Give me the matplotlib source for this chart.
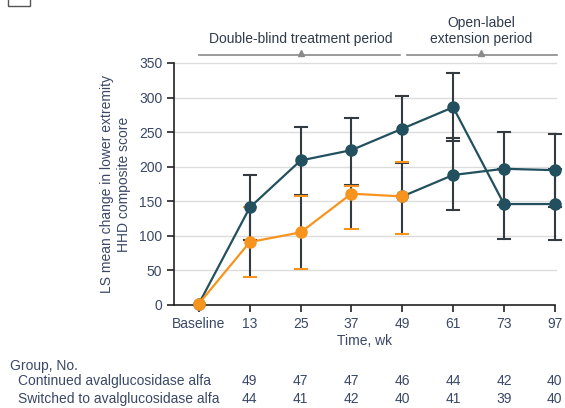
import matplotlib
matplotlib.use("Agg")
import matplotlib.pyplot as plt
from matplotlib.patches import Rectangle

plt.rcParams['font.family'] = ['Liberation Sans', 'DejaVu Sans']

# ---- data ----
time_labels = ["Baseline", "13", "25", "37", "49", "61", "73", "97"]
continued_mean = [2, 141, 209, 224, 255, 286, 146, 146]
continued_lo = [None, 94, 159, 174, 206, 237, 96, 94]
continued_hi = [None, 188, 258, 270, 302, 335, 196, 196]
switched_mean = [2, 91, 105, 161, 157, 188, 197, 195]
switched_lo = [None, 40, 52, 110, 102, 138, 144, 142]
switched_hi = [None, 141, 157, 172, 207, 242, 250, 247]
n_continued = [49, 47, 47, 46, 44, 42, 40]
n_switched = [44, 41, 42, 40, 41, 39, 40]
row_labels = ["Continued avalglucosidase alfa", "Switched to avalglucosidase alfa"]
yticks = [0, 50, 100, 150, 200, 250, 300, 350]
switch_index = 4

TEAL = '#23505e'
ORANGE = '#f7941d'
BAR = '#333a40'
TXT = '#3a4866'
GRID = '#dcdcdc'
FS = 10

fig = plt.figure(figsize=(5.65, 4.08), dpi=100)
ax = fig.add_axes([0.308, 0.2525, 0.674, 0.5931])
x = list(range(len(time_labels)))

for y in yticks[1:]:
    ax.plot([-0.49, 7.03], [y, y], color=GRID, lw=1.0, zorder=0, clip_on=False)

def errbars(mean, lo, hi, capcolors):
    for i in range(len(mean)):
        if lo[i] is None:
            continue
        ax.plot([i, i], [lo[i], hi[i]], color=BAR, lw=1.5, zorder=2, clip_on=False)
        for v in (lo[i], hi[i]):
            ax.plot([i - 0.12, i + 0.12], [v, v], color=capcolors[i], lw=1.5, zorder=3, clip_on=False)

errbars(continued_mean, continued_lo, continued_hi, [BAR] * len(x))
errbars(switched_mean, switched_lo, switched_hi,
        [ORANGE if i <= switch_index else BAR for i in x])

# lines
kw = dict(lw=1.6, marker='o', ms=8, clip_on=False)
ax.plot(x, continued_mean, color=TEAL, mec=TEAL, mfc=TEAL, zorder=4, **kw)
ax.plot(x[switch_index:], switched_mean[switch_index:], color=TEAL, mec=TEAL, mfc=TEAL, zorder=4, **kw)
ax.plot(x[:switch_index + 1], switched_mean[:switch_index + 1], color=ORANGE, mec=ORANGE, mfc=ORANGE, zorder=5, **kw)

ax.set_xlim(-0.49, 7.0)
ax.set_ylim(0, 350)
ax.set_yticks(yticks)
ax.set_xticks(x)
ax.set_xticklabels(time_labels)
for s in ['top', 'right']:
    ax.spines[s].set_visible(False)
for s in ['left', 'bottom']:
    ax.spines[s].set_color('#222222')
    ax.spines[s].set_linewidth(1.2)
ax.tick_params(axis='both', colors='#222222', labelcolor=TXT, labelsize=FS, length=5, width=1.2, direction='out')
ax.set_xlabel("Time, wk", color=TXT, fontsize=FS, labelpad=2)
ax.set_ylabel("LS mean change in lower extremity\nHHD composite score", color=TXT, fontsize=FS, labelpad=6)

# period annotations
ycut = 361
ax.plot([0.0, 3.95], [ycut, ycut], color='#8a8a8a', lw=1.2, clip_on=False)
ax.plot([4.1, 7.05], [ycut, ycut], color='#8a8a8a', lw=1.2, clip_on=False)
ax.plot([2.0], [ycut + 3], marker='^', color='#8a8a8a', ms=5, clip_on=False)
ax.plot([5.55], [ycut + 3], marker='^', color='#8a8a8a', ms=5, clip_on=False)
ax.text(2.0, ycut + 14, "Double-blind treatment period", ha='center', va='bottom', color='#2f3b4c', fontsize=FS, clip_on=False)
ax.text(5.55, ycut + 14, "Open-label\nextension period", ha='center', va='bottom', color='#2f3b4c', fontsize=FS, linespacing=1.15, clip_on=False)

# table
fig.text(10 / 565, 1 - 366 / 408, "Group, No.", ha='left', va='center', color=TXT, fontsize=FS)
row_y = [1 - 381 / 408, 1 - 399 / 408]
for r, (lab, vals) in enumerate(zip(row_labels, [n_continued, n_switched])):
    fig.text(18 / 565, row_y[r], lab, ha='left', va='center', color=TXT, fontsize=FS)
    for j, v in enumerate(vals):
        xf = fig.transFigure.inverted().transform(ax.transData.transform((j + 1, 0)))[0]
        fig.text(xf, row_y[r], str(v), ha='center', va='center', color=TXT, fontsize=FS)

# cropped legend box at top-left
fig.patches.append(Rectangle((8 / 565, 1 - 6 / 408), 22 / 565, 12 / 408, transform=fig.transFigure,
                             fill=False, edgecolor='#555555', lw=1.0))

fig.savefig("out.png", dpi=100)
